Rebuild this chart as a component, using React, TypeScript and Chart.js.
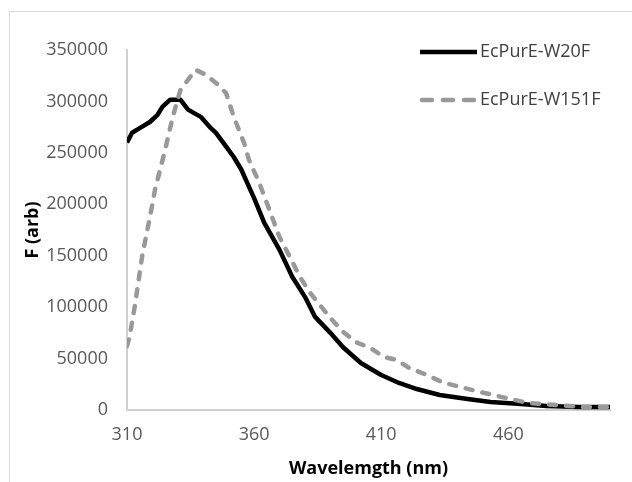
import React, { useEffect, useRef } from "react";
import { Chart, registerables } from "chart.js";

Chart.register(...registerables);

const seriesNames = ["EcPurE-W20F", "EcPurE-W151F"];

const w20fWavelengths = [310, 312, 315, 319, 322, 324, 327, 331, 334, 339, 343, 345, 349, 352, 355, 358, 360, 364, 370, 375, 380, 384, 390, 395, 402, 410, 417, 424, 433, 444, 453, 465, 475, 488, 500];
const w20fValues = [260000, 269600, 274000, 280000, 287000, 295000, 301700, 301700, 292000, 285000, 274000, 269500, 256000, 246000, 233600, 217000, 206000, 182000, 155700, 129500, 110000, 90500, 75000, 61000, 45700, 34000, 26300, 20400, 14600, 10700, 7800, 5800, 3900, 2900, 2900];

const w151fWavelengths = [310, 311, 313, 316, 320, 321, 325, 328, 331, 334, 337, 341, 345, 349, 352, 356, 358, 362, 366, 370, 374, 378, 382, 390, 395, 400, 406, 411, 416, 421, 428, 434, 441, 449, 459, 468, 479, 489, 500];
const w151fValues = [62000, 71000, 100000, 150000, 200000, 214000, 253000, 285000, 311000, 321000, 330700, 326000, 318000, 308000, 285000, 260000, 243000, 221000, 194700, 168000, 149000, 129500, 114000, 89500, 76000, 66000, 60000, 51600, 48700, 40900, 34000, 27000, 22400, 17500, 11700, 6800, 4900, 2900, 2900];

const xTickValues = [310, 360, 410, 460];
const xMin = 310;
const xMax = 500;
const yMin = 0;
const yMax = 350000;
const yStep = 50000;

const xTitle = "Wavelemgth (nm)";
const yTitle = "F (arb)";

const FONT = "'Open Sans', sans-serif";

const legendPlugin = {
  id: "customLegend",
  afterDraw(chart: any) {
    const { ctx, chartArea } = chart;
    const x0 = chartArea.right - 190;
    const lineLen = 57;
    chart.data.datasets.forEach((ds: any, i: number) => {
      const y = chartArea.top + 2 + i * 48;
      ctx.save();
      ctx.strokeStyle = ds.borderColor;
      ctx.lineWidth = 4.5;
      ctx.lineCap = ds.borderDash && ds.borderDash.length ? "round" : "butt";
      ctx.setLineDash(ds.borderDash && ds.borderDash.length ? [10, 11] : []);
      ctx.beginPath();
      ctx.moveTo(x0 + (ds.borderDash && ds.borderDash.length ? 2 : 0), y);
      ctx.lineTo(x0 + lineLen, y);
      ctx.stroke();
      ctx.restore();
      ctx.save();
      ctx.fillStyle = "#404040";
      ctx.font = `18px ${FONT}`;
      ctx.textBaseline = "middle";
      ctx.textAlign = "left";
      ctx.fillText(ds.label, x0 + lineLen + 3, y);
      ctx.restore();
    });
  },
};

export default function App() {
  const canvasRef = useRef<HTMLCanvasElement | null>(null);

  useEffect(() => {
    const canvas = canvasRef.current;
    if (!canvas) return;
    const chart = new Chart(canvas, {
      type: "line",
      data: {
        datasets: [
          {
            label: seriesNames[0],
            data: w20fWavelengths.map((x, i) => ({ x, y: w20fValues[i] })),
            borderColor: "#000000",
            backgroundColor: "#000000",
            borderWidth: 4.5,
            pointRadius: 0,
            tension: 0,
            borderJoinStyle: "round",
            order: 1,
          },
          {
            label: seriesNames[1],
            data: w151fWavelengths.map((x, i) => ({ x, y: w151fValues[i] })),
            borderColor: "#999999",
            backgroundColor: "#999999",
            borderWidth: 4.5,
            borderDash: [7, 10],
            borderCapStyle: "round",
            pointRadius: 0,
            tension: 0,
            order: 0,
          },
        ],
      },
      options: {
        animation: false,
        responsive: false,
        maintainAspectRatio: false,
        layout: { padding: { left: 0, top: 50, right: 22, bottom: 0 } },
        plugins: {
          legend: { display: false },
          tooltip: { enabled: false },
        },
        scales: {
          x: {
            type: "linear",
            min: xMin,
            max: xMax,
            afterBuildTicks: (scale: any) => {
              scale.ticks = xTickValues.map((v) => ({ value: v }));
            },
            afterFit: (scale: any) => {
              scale.height = 72;
            },
            grid: { display: false, drawTicks: false },
            border: { display: true, color: "#d0d0d0", width: 2 },
            ticks: {
              color: "#595959",
              font: { family: FONT, size: 18 },
              padding: 14,
              maxRotation: 0,
              autoSkip: false,
              callback: (v: any) => String(v),
            },
            title: {
              display: true,
              text: xTitle,
              color: "#000000",
              font: { family: FONT, size: 18, weight: "bold" },
              padding: { top: 0, bottom: 2 },
            },
          },
          y: {
            type: "linear",
            min: yMin,
            max: yMax,
            afterFit: (scale: any) => {
              scale.width = 127;
            },
            grid: { display: false, drawTicks: false },
            border: { display: true, color: "#d0d0d0", width: 2 },
            ticks: {
              stepSize: yStep,
              color: "#595959",
              font: { family: FONT, size: 18 },
              padding: 19,
              callback: (v: any) => String(v),
            },
            title: {
              display: true,
              text: yTitle,
              color: "#000000",
              font: { family: FONT, size: 18, weight: "bold" },
              padding: { top: 22, bottom: 0 },
            },
          },
        },
      },
      plugins: [legendPlugin],
    });
    return () => chart.destroy();
  }, []);

  return (
    <div style={{ position: "absolute", left: 0, top: 0, width: 632, height: 482, background: "#ffffff", overflow: "hidden" }}>
      <div
        style={{
          position: "absolute",
          left: 9,
          top: 11,
          right: -2,
          bottom: -2,
          borderLeft: "1.5px solid #d9d9d9",
          borderTop: "1.5px solid #d9d9d9",
        }}
      />
      <canvas ref={canvasRef} width={632} height={482} style={{ position: "absolute", left: 0, top: 0, display: "block" }} />
    </div>
  );
}
